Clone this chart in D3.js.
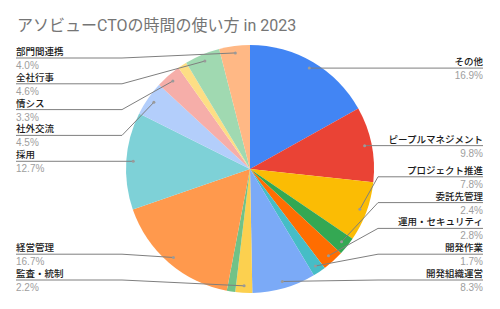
<!DOCTYPE html>
<html>
<head>
<meta charset="utf-8">
<script src="https://cdn.jsdelivr.net/npm/d3@7"></script>
<style>
  body { margin: 0; background: #fff; }
  svg { display: block; }
</style>
</head>
<body>
<script>
// slices clockwise from 12 o'clock; empty name = slice without label
var categories = ['その他', 'ピープルマネジメント', 'プロジェクト推進', '委託先管理', '運用・セキュリティ', '開発作業', '開発組織運営',
    '監査・統制', '', '経営管理', '採用', '社外交流', '情シス', '', '全社行事', '部門間連携'];
var values = [16.9, 9.8, 7.8, 2.4, 2.8, 1.7, 8.3, 2.2, 1.1, 16.7, 12.7, 4.5, 3.3, 1.2, 4.6, 4.0];
var colors = ['#4285f4', '#ea4335', '#fbbc04', '#34a853', '#ff6d01', '#46bdc6', '#7baaf7',
    '#fcd04f', '#71c287', '#ff994d', '#7ed1d7', '#b3cefb', '#f6aea9', '#fdde85', '#a0d9b1', '#ffb885'];
var title = 'アソビューCTOの時間の使い方 in 2023';

var width = 500, height = 309;
var cx = 250, cy = 169, radius = 124;

var svg = d3.select('body').append('svg')
    .attr('width', width)
    .attr('height', height);

svg.append('text')
    .attr('x', 17)
    .attr('y', 31)
    .attr('fill', '#757575')
    .attr('font-family', 'Roboto, "Noto Sans CJK JP", sans-serif')
    .attr('font-size', 16)
    .text(title);

var data = categories.map(function(c, i) {
    return {name: c, value: values[i], color: colors[i]};
});

var pie = d3.pie()
    .sort(null)
    .value(function(d) { return d.value; });
var arcs = pie(data);

var arc = d3.arc().innerRadius(0).outerRadius(radius);
var anchorArc = d3.arc().innerRadius(radius - 7).outerRadius(radius - 7);

var g = svg.append('g').attr('transform', 'translate(' + cx + ',' + cy + ')');

g.selectAll('path')
    .data(arcs)
    .enter().append('path')
    .attr('d', arc)
    .attr('fill', function(d) { return d.data.color; });

// label layout: one column each side, stacked with minimum spacing
var gap = 25.8, minY = 58, maxY = 280;
var labels = arcs.filter(function(d) { return d.data.name !== ''; }).map(function(d) {
    var c = anchorArc.centroid(d);
    var mid = (d.startAngle + d.endAngle) / 2;
    return {d: d, ax: c[0] + cx, ay: c[1] + cy, left: mid > Math.PI};
});

[true, false].forEach(function(side) {
    var list = labels.filter(function(l) { return l.left === side; })
        .sort(function(a, b) { return a.ay - b.ay; });
    var prev = -Infinity;
    list.forEach(function(l) {
        l.y = Math.max(l.ay, minY, prev + gap);
        prev = l.y;
    });
    var next = Infinity;
    for (var i = list.length - 1; i >= 0; i--) {
        list[i].y = Math.min(list[i].y, maxY, next - gap);
        next = list[i].y;
    }
});

var lg = svg.append('g');

lg.selectAll('polyline')
    .data(labels)
    .enter().append('polyline')
    .attr('points', function(l) {
        var outer = l.left ? 16 : 483;
        var bend = l.left ? 122 : 378;
        return [[outer, l.y], [bend, l.y], [l.ax, l.ay]].join(' ');
    })
    .attr('fill', 'none')
    .attr('stroke', '#7f7f7f')
    .attr('stroke-width', 1);

lg.selectAll('circle')
    .data(labels)
    .enter().append('circle')
    .attr('cx', function(l) { return l.ax; })
    .attr('cy', function(l) { return l.ay; })
    .attr('r', 1.5)
    .attr('fill', '#9a9a9a');

lg.selectAll('text.name')
    .data(labels)
    .enter().append('text')
    .attr('class', 'name')
    .attr('x', function(l) { return l.left ? 16 : 483; })
    .attr('y', function(l) { return l.y - 3; })
    .attr('text-anchor', function(l) { return l.left ? 'start' : 'end'; })
    .attr('fill', '#1a1a1a')
    .attr('font-family', '"Noto Sans CJK JP", sans-serif')
    .attr('font-weight', 500)
    .attr('font-size', 9.5)
    .text(function(l) { return l.d.data.name; });

lg.selectAll('text.pct')
    .data(labels)
    .enter().append('text')
    .attr('class', 'pct')
    .attr('x', function(l) { return l.left ? 16 : 483; })
    .attr('y', function(l) { return l.y + 11; })
    .attr('text-anchor', function(l) { return l.left ? 'start' : 'end'; })
    .attr('fill', '#9e9e9e')
    .attr('font-family', '"Liberation Sans", Arial, sans-serif')
    .attr('font-size', 10)
    .text(function(l) { return l.d.data.value.toFixed(1) + '%'; });
</script>
</body>
</html>
